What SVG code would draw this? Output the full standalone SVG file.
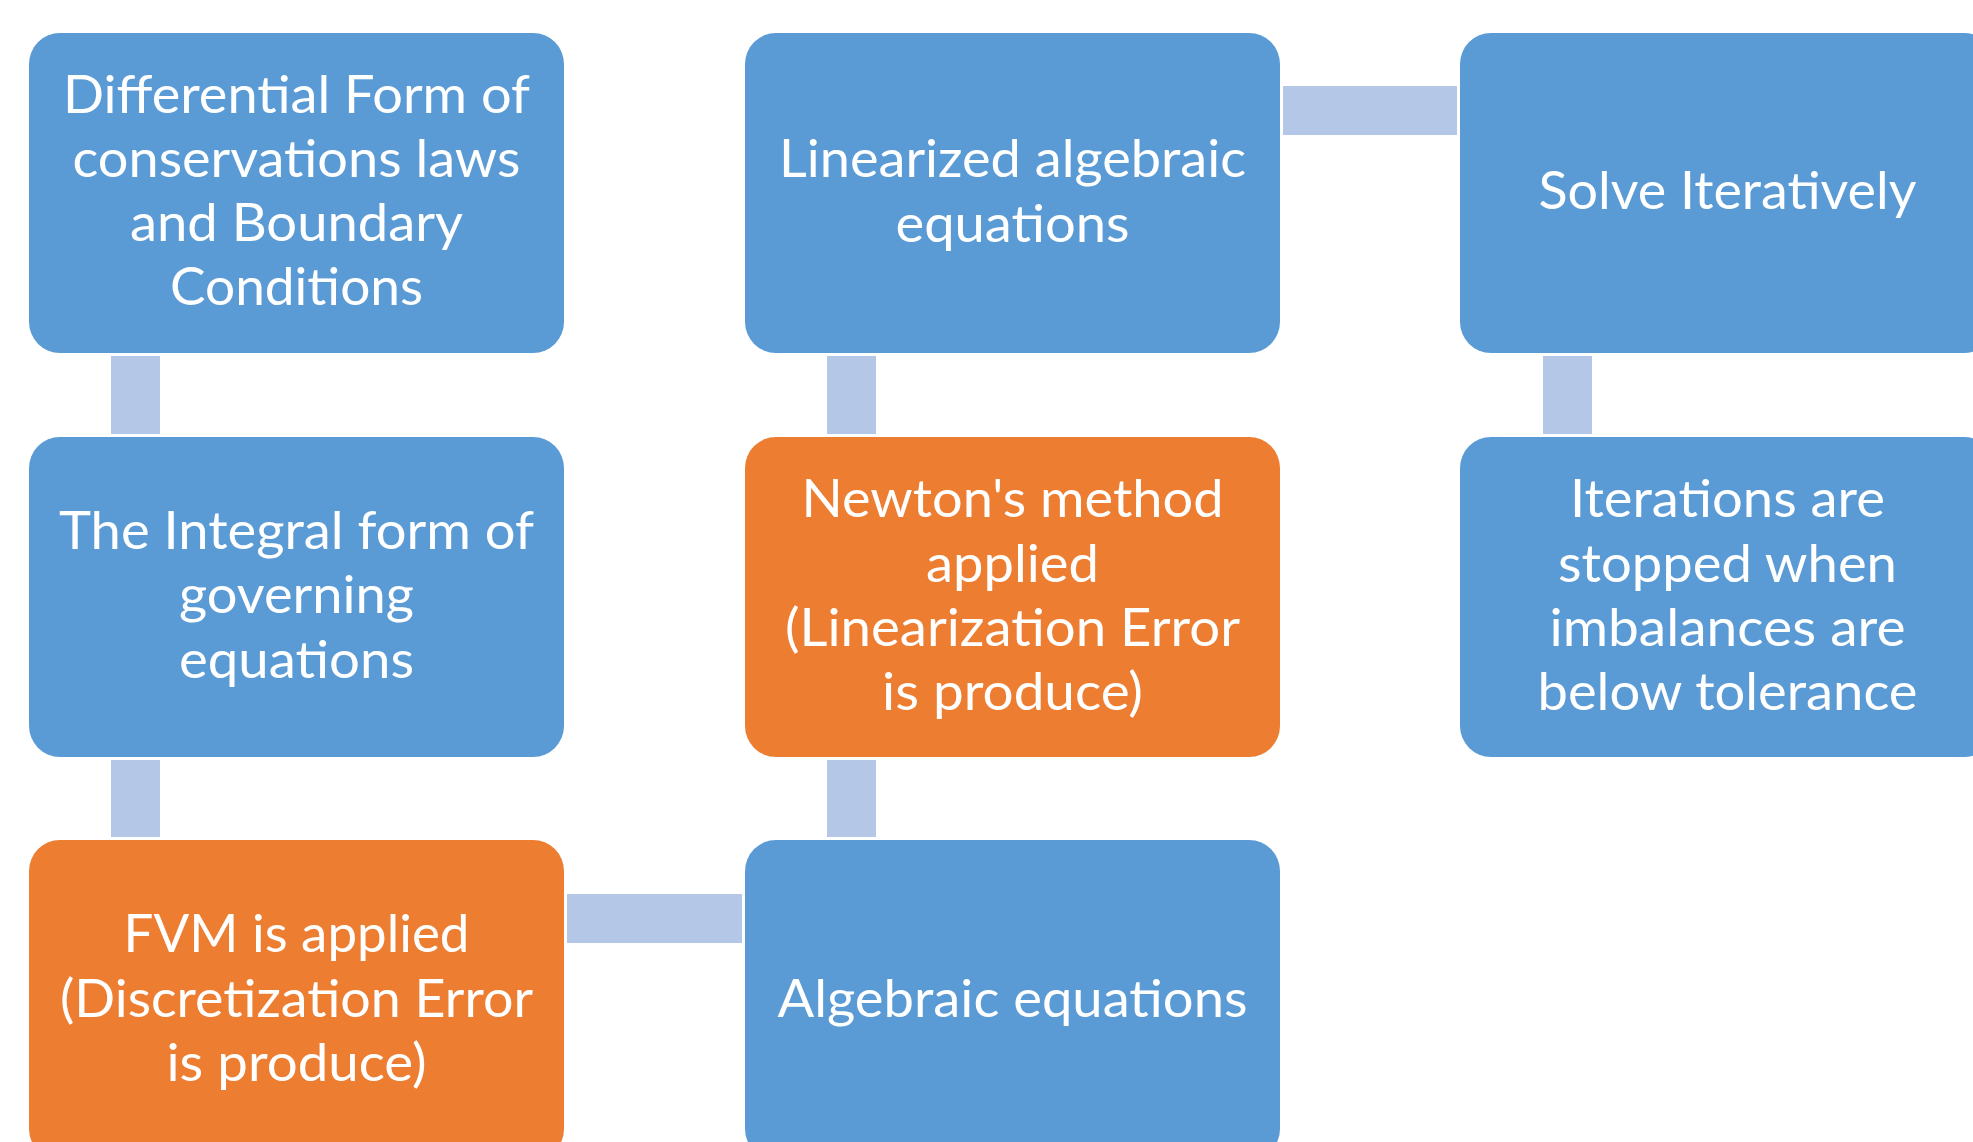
<svg xmlns="http://www.w3.org/2000/svg" width="1973" height="1142" viewBox="0 0 1973 1142">
<style>
.box{stroke:none}
.blue{fill:#5B9BD5}
.orange{fill:#ED7D31}
.conn{fill:#B4C7E7}
text{font-family:Lato,"Open Sans","Liberation Sans",sans-serif;font-size:53px;fill:#FFFFFF;text-anchor:middle}
</style>
<rect width="1973" height="1142" fill="#FFFFFF"/>
<g id="connectors">
<rect class="conn" x="111" y="356" width="49" height="78"/>
<rect class="conn" x="111" y="760" width="49" height="77"/>
<rect class="conn" x="567" y="894" width="175" height="49"/>
<rect class="conn" x="827" y="760" width="49" height="77"/>
<rect class="conn" x="827" y="356" width="49" height="78"/>
<rect class="conn" x="1283" y="86" width="174" height="49"/>
<rect class="conn" x="1543" y="356" width="49" height="78"/>
</g>
<g id="node-differential">
<rect class="box blue" x="29" y="33" width="535" height="320" rx="31" ry="31"/>
<text x="296.5" y="112.5" textLength="467" lengthAdjust="spacingAndGlyphs">Differential Form of</text>
<text x="296.5" y="176.7" textLength="448" lengthAdjust="spacingAndGlyphs">conservations laws</text>
<text x="296.5" y="240.9" textLength="333" lengthAdjust="spacingAndGlyphs">and Boundary</text>
<text x="296.5" y="305" textLength="253" lengthAdjust="spacingAndGlyphs">Conditions</text>
</g>
<g id="node-integral">
<rect class="box blue" x="29" y="437" width="535" height="320" rx="31" ry="31"/>
<text x="296.5" y="548.7" textLength="475" lengthAdjust="spacingAndGlyphs">The Integral form of</text>
<text x="296.5" y="613.3" textLength="235" lengthAdjust="spacingAndGlyphs">governing</text>
<text x="296.5" y="678" textLength="235" lengthAdjust="spacingAndGlyphs">equations</text>
</g>
<g id="node-fvm">
<rect class="box orange" x="29" y="840" width="535" height="320" rx="31" ry="31"/>
<text x="296.5" y="952.3" textLength="346" lengthAdjust="spacingAndGlyphs">FVM is applied</text>
<text x="296.5" y="1016.7" textLength="473" lengthAdjust="spacingAndGlyphs">(Discretization Error</text>
<text x="296.5" y="1081" textLength="260" lengthAdjust="spacingAndGlyphs">is produce)</text>
</g>
<g id="node-algebraic">
<rect class="box blue" x="745" y="840" width="535" height="320" rx="31" ry="31"/>
<text x="1012.5" y="1016.7" textLength="470" lengthAdjust="spacingAndGlyphs">Algebraic equations</text>
</g>
<g id="node-newton">
<rect class="box orange" x="745" y="437" width="535" height="320" rx="31" ry="31"/>
<text x="1012.5" y="516.7" textLength="422" lengthAdjust="spacingAndGlyphs">Newton's method</text>
<text x="1012.5" y="581.7" textLength="173" lengthAdjust="spacingAndGlyphs">applied</text>
<text x="1012.5" y="646" textLength="455" lengthAdjust="spacingAndGlyphs">(Linearization Error</text>
<text x="1012.5" y="710" textLength="261" lengthAdjust="spacingAndGlyphs">is produce)</text>
</g>
<g id="node-linearized">
<rect class="box blue" x="745" y="33" width="535" height="320" rx="31" ry="31"/>
<text x="1012.5" y="177.3" textLength="467" lengthAdjust="spacingAndGlyphs">Linearized algebraic</text>
<text x="1012.5" y="241.7" textLength="234" lengthAdjust="spacingAndGlyphs">equations</text>
</g>
<g id="node-solve">
<rect class="box blue" x="1460" y="33" width="535" height="320" rx="31" ry="31"/>
<text x="1727.5" y="209.3" textLength="378" lengthAdjust="spacingAndGlyphs">Solve Iteratively</text>
</g>
<g id="node-iterations">
<rect class="box blue" x="1460" y="437" width="535" height="320" rx="31" ry="31"/>
<text x="1727.5" y="516.7" textLength="315" lengthAdjust="spacingAndGlyphs">Iterations are</text>
<text x="1727.5" y="581.7" textLength="339" lengthAdjust="spacingAndGlyphs">stopped when</text>
<text x="1727.5" y="646" textLength="356" lengthAdjust="spacingAndGlyphs">imbalances are</text>
<text x="1727.5" y="710" textLength="380" lengthAdjust="spacingAndGlyphs">below tolerance</text>
</g>
</svg>
